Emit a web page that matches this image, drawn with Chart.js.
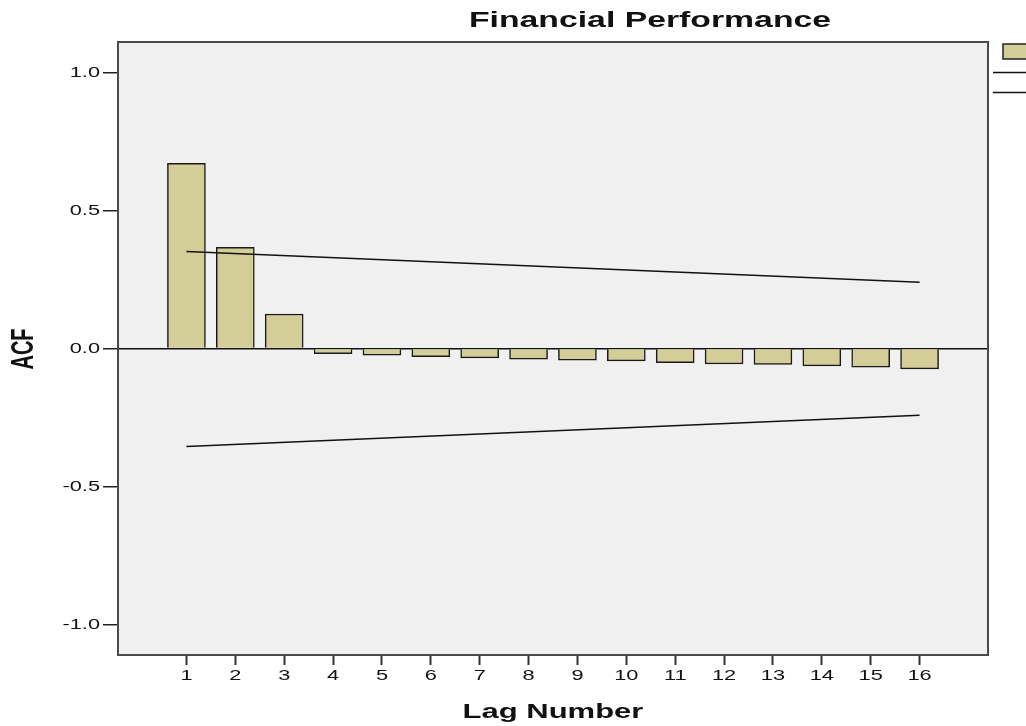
<!DOCTYPE html>
<html>
<head>
<meta charset="utf-8">
<script src="https://cdn.jsdelivr.net/npm/chart.js@4/dist/chart.umd.min.js"></script>
<style>
html,body{margin:0;padding:0;background:#fff;}
#wrap{width:1026px;height:726px;}
</style>
</head>
<body>
<div id="wrap"><canvas id="c" width="1026" height="726"></canvas></div>
<script>
// ---- data ----
const chartTitle = "Financial Performance";
const xTitle = "Lag Number";
const yTitle = "ACF";
const lags = [1,2,3,4,5,6,7,8,9,10,11,12,13,14,15,16];
const acf = [0.671,0.366,0.125,-0.019,-0.024,-0.030,-0.034,-0.039,-0.042,-0.045,-0.051,-0.056,-0.058,-0.063,-0.068,-0.074];
const limitLags = [1,16];
const upperLimit = [0.351,0.240];
const lowerLimit = [-0.355,-0.242];
const yTicks = [-1.0,-0.5,0.0,0.5,1.0];

// ---- styles ----
const FONT = "'Liberation Sans', Arial, sans-serif";
const SX = 1.55; // horizontal stretch of text in reference
const barFill = '#d3ce97';
const plotBg = '#f0f0f0';

function stretchedText(ctx, text, x, y, font, align, baseline, rotate, sx){
  ctx.save();
  ctx.translate(x, y);
  ctx.scale(sx, 1);
  if (rotate) ctx.rotate(-Math.PI/2);
  ctx.font = font;
  ctx.fillStyle = '#111';
  ctx.textAlign = align;
  ctx.textBaseline = baseline;
  ctx.fillText(text, 0, 0);
  ctx.restore();
}

const decor = {
  id: 'decor',
  beforeDraw(chart){
    const {ctx, chartArea:a} = chart;
    ctx.save();
    ctx.fillStyle = '#fff';
    ctx.fillRect(0,0,chart.width,chart.height);
    ctx.fillStyle = plotBg;
    ctx.fillRect(a.left, a.top, a.right-a.left, a.bottom-a.top);
    ctx.restore();
  },
  afterDraw(chart){
    const {ctx, chartArea:a, scales} = chart;
    ctx.save();
    ctx.strokeStyle = '#4a4a4a';
    ctx.lineWidth = 2;
    ctx.strokeRect(a.left, a.top, a.right-a.left, a.bottom-a.top);
    ctx.restore();
    // tick labels
    scales.y.ticks.forEach(t => {
      const py = scales.y.getPixelForValue(t.value);
      stretchedText(ctx, t.value.toFixed(1), 100, py, "15px "+FONT, 'right', 'middle', false, 1.45);
    });
    scales.x.ticks.forEach(t => {
      const px = scales.x.getPixelForValue(t.value);
      stretchedText(ctx, String(t.value), px, 676, "15px "+FONT, 'center', 'middle', false, 1.45);
    });
    // titles
    stretchedText(ctx, chartTitle, 650, 27, "bold 22px "+FONT, 'center', 'alphabetic', false, SX*0.99);
    stretchedText(ctx, xTitle, 553, 718, "bold 20px "+FONT, 'center', 'alphabetic', false, SX);
    stretchedText(ctx, yTitle, 24, 349, "bold 20px "+FONT, 'center', 'middle', true, SX);
    // legend (clipped at right edge like the reference)
    ctx.save();
    ctx.fillStyle = barFill;
    ctx.strokeStyle = '#222';
    ctx.lineWidth = 1.5;
    ctx.fillRect(1003, 44, 30, 15);
    ctx.strokeRect(1003, 44, 30, 15);
    ctx.beginPath();
    ctx.moveTo(993, 72.5); ctx.lineTo(1026, 72.5);
    ctx.moveTo(993, 92.5); ctx.lineTo(1026, 92.5);
    ctx.strokeStyle = '#111';
    ctx.stroke();
    ctx.restore();
  }
};

new Chart(document.getElementById('c'), {
  type: 'bar',
  data: {
    datasets: [
      {
        type: 'bar',
        label: 'Coefficient',
        data: lags.map((l,i)=>({x:l, y:acf[i]})),
        backgroundColor: barFill,
        borderColor: '#1a1a1a',
        borderWidth: 1.5,
        barThickness: 38,
        order: 2
      },
      {
        type: 'line',
        label: 'Upper Confidence Limit',
        data: limitLags.map((l,i)=>({x:l, y:upperLimit[i]})),
        borderColor: '#111',
        borderWidth: 1.5,
        pointRadius: 0,
        fill: false,
        order: 1
      },
      {
        type: 'line',
        label: 'Lower Confidence Limit',
        data: limitLags.map((l,i)=>({x:l, y:lowerLimit[i]})),
        borderColor: '#111',
        borderWidth: 1.5,
        pointRadius: 0,
        fill: false,
        order: 1
      }
    ]
  },
  options: {
    responsive: false,
    animation: false,
    devicePixelRatio: 1,
    layout: { padding: { left: 0, top: 42, right: 38, bottom: 0 } },
    plugins: { legend: { display: false }, tooltip: { enabled: false }, title: { display: false } },
    scales: {
      x: {
        type: 'linear',
        min: -0.4,
        max: 17.4,
        offset: false,
        afterBuildTicks: s => { s.ticks = lags.map(v => ({value: v})); },
        afterFit: s => { s.height = 71; },
        ticks: { display: false },
        border: { display: false },
        grid: { offset: false, drawOnChartArea: false, drawTicks: true, tickLength: 10, tickColor: '#333', tickWidth: 2 }
      },
      y: {
        type: 'linear',
        min: -1.11,
        max: 1.11,
        afterBuildTicks: s => { s.ticks = yTicks.map(v => ({value: v})); },
        afterFit: s => { s.width = 118; },
        ticks: { display: false },
        border: { display: false },
        grid: {
          offset: false,
          color: c => (c.tick && c.tick.value === 0) ? '#111' : 'rgba(0,0,0,0)',
          lineWidth: 1.5,
          drawTicks: true, tickLength: 15, tickColor: '#222', tickWidth: 1.5
        }
      }
    }
  },
  plugins: [decor]
});
</script>
</body>
</html>
